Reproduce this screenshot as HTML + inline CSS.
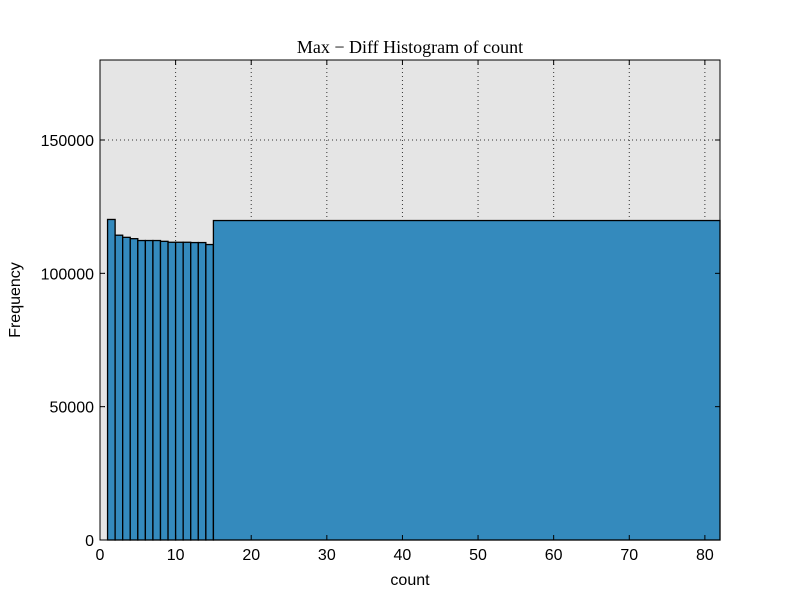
<!DOCTYPE html>
<html><head><meta charset="utf-8"><style>
body{margin:0;background:#fff;}
svg text{font-family:"Liberation Sans",sans-serif;}
</style></head><body>
<svg id="chart" width="800" height="600">
<rect x="0" y="0" width="800" height="600" fill="#fff"/>
<rect x="100" y="60" width="620" height="480" fill="#e5e5e5"/>
<g id="grid"></g>
<g id="bars"></g>
<rect x="100" y="60" width="620" height="480" fill="none" stroke="#000" stroke-width="1"/>
<g id="ticks"></g>
<text x="410" y="53" text-anchor="middle" font-size="18" style="font-family:'Liberation Serif',serif">Max − Diff Histogram of count</text>
<text x="410" y="585" text-anchor="middle" font-size="16">count</text>
<text x="20" y="300" text-anchor="middle" font-size="16" transform="rotate(-90 20 300)">Frequency</text>
</svg>
<script>
const binEdges=[1,2,3,4,5,6,7,8,9,10,11,12,13,14,15,82];
const counts=[120200,114300,113500,113000,112300,112300,112300,112000,111650,111650,111650,111540,111540,110800,119800];
const xTicks=[0,10,20,30,40,50,60,70,80];
const yTicks=[0,50000,100000,150000];
const NS="http://www.w3.org/2000/svg";
const X=v=>100+v*620/82;
const Y=v=>540-v*480/180000;
function mk(t,a,p){const e=document.createElementNS(NS,t);for(const k in a)e.setAttribute(k,a[k]);document.getElementById(p).appendChild(e);return e;}
xTicks.forEach(t=>{
 if(t>0){const g=mk('line',{x1:X(t),x2:X(t),y1:60,y2:540,stroke:'#333','stroke-dasharray':'1,3'},'grid');
 
 }
 mk('line',{x1:X(t),x2:X(t),y1:540,y2:535,stroke:'#000'},'ticks');
 mk('line',{x1:X(t),x2:X(t),y1:60,y2:65,stroke:'#000'},'ticks');
 const l=mk('text',{x:X(t),y:560,'text-anchor':'middle','font-size':16},'ticks');l.textContent=t;
 
 
});
yTicks.forEach(t=>{
 if(t>0){const g=mk('line',{x1:100,x2:720,y1:Y(t),y2:Y(t),stroke:'#333','stroke-dasharray':'1,3'},'grid');
 
 }
 mk('line',{x1:100,x2:105,y1:Y(t),y2:Y(t),stroke:'#000'},'ticks');
 mk('line',{x1:715,x2:720,y1:Y(t),y2:Y(t),stroke:'#000'},'ticks');
 const l=mk('text',{x:94,y:Y(t)+6,'text-anchor':'end','font-size':16},'ticks');l.textContent=t;
 
 
});
counts.forEach((c,i)=>{
 const b=mk('rect',{x:X(binEdges[i]),y:Y(c),width:X(binEdges[i+1])-X(binEdges[i]),height:540-Y(c),fill:'#348abd',stroke:'#000','stroke-width':1.3},'bars');
 
 
});
</script>
</body></html>
